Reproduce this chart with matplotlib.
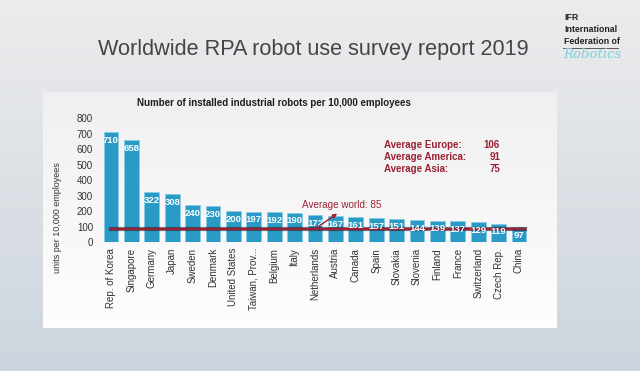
import numpy as np
import matplotlib
matplotlib.use("Agg")
import matplotlib.pyplot as plt

countries = ["Rep. of Korea", "Singapore", "Germany", "Japan", "Sweden", "Denmark",
             "United States", "Taiwan, Prov...", "Belgium", "Italy", "Netherlands",
             "Austria", "Canada", "Spain", "Slovakia", "Slovenia", "Finland", "France",
             "Switzerland", "Czech Rep.", "China"]
robots = [710, 658, 322, 308, 240, 230, 200, 197, 192, 190, 172,
          167, 161, 157, 151, 144, 139, 137, 129, 119, 97]
avg_world = 85
region_names = ["Average Europe:", "Average America:", "Average Asia:"]
region_values = [106, 91, 75]
yticks = [0, 100, 200, 300, 400, 500, 600, 700, 800]

FONT = "Liberation Sans"
RED = "#9a2234"
BAR = "#2a9ac6"
W, H = 640, 371

fig = plt.figure(figsize=(W / 100, H / 100), dpi=100)

# background axes in pixel coordinates
bg = fig.add_axes([0, 0, 1, 1])
bg.set_xlim(0, W)
bg.set_ylim(H, 0)
bg.axis("off")
grad = np.linspace(0, 1, 256)[:, None]
top = np.array([0.925, 0.925, 0.93])
bot = np.array([0.80, 0.835, 0.87])
outer = top[None, None, :] * (1 - grad[..., None]) + bot[None, None, :] * grad[..., None]
bg.imshow(outer, extent=[0, W, H, 0], aspect="auto", zorder=0)
# white panel
ptop = np.array([0.94, 0.94, 0.945])
pbot = np.array([0.995, 0.995, 0.995])
panel = ptop[None, None, :] * (1 - grad[..., None]) + pbot[None, None, :] * grad[..., None]
bg.imshow(panel, extent=[43, 557, 328, 92], aspect="auto", zorder=1)

bg.text(313, 50, "Worldwide RPA robot use survey report 2019", ha="center", va="center",
        fontsize=15.6, color="#454545", family=FONT, zorder=3)
bg.text(274, 103, "Number of installed industrial robots per 10,000 employees", ha="center",
        va="center", fontsize=7, fontweight="bold", color="#1e1e1e", family=FONT, zorder=3)
bg.text(58, 218, "units per 10,000 employees", rotation=90, ha="center", va="center",
        fontsize=6.5, color="#333333", family=FONT, zorder=3)

# logo text
for txt, yy in [("IFR", 18), ("International", 30), ("Federation of", 42)]:
    bg.text(564, yy, txt, ha="left", va="center", fontsize=6.3, fontweight="bold",
            color="#222222", family=FONT, zorder=3)
bg.plot([563, 618], [47.5, 47.5], color="#444444", lw=0.6, zorder=3)
bg.text(563, 54, "Robotics", ha="left", va="center", fontsize=9.5, style="italic",
        color="#7fd0dc", family="DejaVu Serif", zorder=3)

# region averages
for i, (nm, val) in enumerate(zip(region_names, region_values)):
    yy = 145 + 12 * i
    bg.text(384, yy, nm, ha="left", va="center", fontsize=7, fontweight="bold",
            color=RED, family=FONT, zorder=3)
    bg.text(500, yy, str(val), ha="right", va="center", fontsize=7, fontweight="bold",
            color=RED, family=FONT, zorder=3)

# main chart axes
x0, x1 = 100, 530
s = 20.4
ax = fig.add_axes([x0 / W, (H - 242) / H, (x1 - x0) / W, (242 - 118.3) / H])
ax.set_facecolor("none")
x = np.arange(len(countries))
ax.bar(x, robots, width=0.735, color=BAR, zorder=2, edgecolor="#7fcbe6", linewidth=0.4)
for xi, v in zip(x, robots):
    ax.annotate(str(v), (xi, v), xytext=(0, -6), textcoords="offset points", ha="center",
                va="center", fontsize=6.8, fontweight="bold", color="white", family=FONT,
                zorder=4)
ax.plot([x[0], x[-1] + 0.3], [avg_world, avg_world], color="#3a1a2a", lw=3.0, zorder=3,
        alpha=0.6)
ax.plot([x[0], x[-1] + 0.3], [avg_world, avg_world], color=RED, lw=1.5, zorder=3)
ax.annotate("", xy=(11.2, 194), xytext=(10, avg_world),
            arrowprops=dict(arrowstyle="-|>", color=RED, lw=1.0, mutation_scale=6), zorder=5)
ax.text(9.35, 240, "Average world: %d" % avg_world, ha="left", va="center", fontsize=7.1,
        color=RED, family=FONT, zorder=5)

ax.set_xlim((x0 - 111) / s, (x1 - 111) / s)
ax.set_ylim(0, 800)
ax.set_yticks(yticks)
ax.set_yticklabels([str(t) for t in yticks], fontsize=7, color="#333333", family=FONT)
ax.set_xticks(x)
ax.set_xticklabels(countries, rotation=90, fontsize=7, color="#333333", family=FONT)
ax.tick_params(axis="both", length=0)
ax.tick_params(axis="y", pad=5)
ax.tick_params(axis="x", pad=4.3)
for sp in ax.spines.values():
    sp.set_visible(False)

fig.savefig("out.png", dpi=100)
